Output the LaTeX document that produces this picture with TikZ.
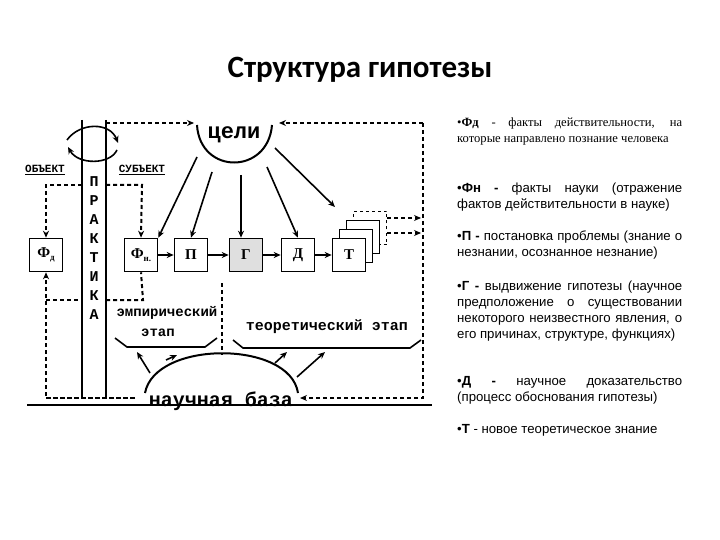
\documentclass[tikz,border=0pt]{standalone}
\usepackage{fontspec}
\setmainfont{Liberation Serif}
\newfontfamily\sansf{Liberation Sans}
\newfontfamily\titlef{Carlito}
\newfontfamily\monof{Liberation Mono}
\usetikzlibrary{arrows.meta}
\begin{document}
\begin{tikzpicture}[x=1pt,y=-1pt,
  bx/.style={draw,line width=1.6pt,minimum size=33pt,inner sep=0pt,font=\bfseries\fontsize{15}{15}\selectfont},
  dl/.style={line width=2pt,dash pattern=on 4pt off 3pt},
  ar/.style={-{Stealth[length=7pt,width=6pt]}},
  thk/.style={line width=1.6pt},
  mono/.style={inner sep=0pt,font=\monof\bfseries\fontsize{14}{14}\selectfont},
  para/.style={anchor=north west,text width=225pt,align=justify,inner sep=0pt,font=\sansf\fontsize{13.2}{16}\selectfont}]
\useasboundingbox[fill=white] (0,0) rectangle (720,540);
\node[font=\titlef\bfseries\fontsize{31}{31}\selectfont] (title) at (360,70) {Структура гипотезы};
% frame lines
\draw[thk] (27,405) -- (432,405);
\draw[line width=2pt] (82,120) -- (82,398);
\draw[line width=2pt] (106,120) -- (106,398);
\foreach \l [count=\i] in {П,Р,А,К,Т,И,К,А}
  \node[inner sep=0pt,font=\monof\bfseries\fontsize{15}{15}\selectfont] (p\i) at (94,163+\i*19) {\l};
\node[inner sep=0pt,font=\monof\bfseries\fontsize{11}{11}\selectfont] (obj) at (45,170) {\underline{ОБЪЕКТ}};
\node[inner sep=0pt,font=\monof\bfseries\fontsize{11}{11}\selectfont] (subj) at (142,170) {\underline{СУБЪЕКТ}};
% circular arrows
\draw[thk,ar] (67,140) .. controls (80,122) and (110,122) .. (118,143);
\draw[thk,ar] (117,150) .. controls (110,165) and (78,165) .. (68,147);
% celi
\draw[line width=2pt] (197,125) .. controls (200,175) and (268,175) .. (272,125);
\node[inner sep=0pt,font=\monof\bfseries\fontsize{22}{22}\selectfont] (celi) at (234,135) {цели};
% boxes
\node[bx] (fd) at (46,255) {Ф\raisebox{-3pt}{\fontsize{9}{9}\selectfont д}};
\node[bx] (fn) at (141,255) {Ф\raisebox{-3pt}{\fontsize{9}{9}\selectfont н.}};
\node[bx] (pp) at (191,255) {П};
\node[bx,fill=gray!25] (gg) at (246,255) {Г};
\node[bx] (dd) at (298,255) {Д};
\node[bx,dashed] (t3) at (370,228) {};
\node[bx,fill=white] (t2) at (363,237) {};
\node[bx,fill=white] (t1) at (356,246) {};
\node[bx,fill=white] (tt) at (349,255) {Т};
\draw[thk,ar] (fn) -- (pp);
\draw[thk,ar] (pp) -- (gg);
\draw[thk,ar] (gg) -- (dd);
\draw[thk,ar] (dd) -- (tt);
\coordinate (o1) at (421,218); \coordinate (o2) at (421,233);
\draw[dl,ar] (t3.east |- o1) -- (o1);
\draw[dl,ar] (t3.east |- o2) -- (o2);
% arrows from celi
\draw[thk,ar] (197,157) -- (fn.north east);
\draw[thk,ar] (212,172) -- (pp.north);
\draw[thk,ar] (241,175) -- ([xshift=-5pt]gg.north);
\draw[thk,ar] (267,167) -- (dd.north);
\draw[thk,ar] (275,148) -- (335,207);
% dashed lines
\coordinate (c1) at (106,123); \coordinate (c2) at (194,123);
\draw[dl,ar] (c1) -- (c2);
\coordinate (r1) at (423,123); \coordinate (r2) at (423,398); \coordinate (r3) at (300,398);
\draw[dl,ar] (r1) -- (279,123);
\draw[dl,ar] (r1) -- (r2) -- (r3);
\draw[dl,ar] (82,185) -- (46,185) -- (fd.north);
\draw[dl,ar] (106,185) -- (142,185) -- (fn.north);
\coordinate (b1) at (46,398); \coordinate (b2) at (135,398);
\draw[dl,ar] (b2) -| (46,300) -- (fd.south);
\draw[dl] (b1) -- (b2);
\draw[dl] (46,300) -- (82,300);
\draw[dl] (106,300) -- (143,300) -- (fn.south);
\draw[dl] (222,283) -- (222,355);
% stage labels
\node[mono] (emp) at (167,313) {эмпирический};
\node[mono] (etap) at (158,333) {этап};
\node[mono,font=\monof\bfseries\fontsize{15}{15}\selectfont] (teor) at (327,327) {теоретический этап};
\draw[thk] (115,338) -- (127,347) -- (205,347) -- (217,338);
\draw[thk] (233,340) -- (243,348) -- (410,348) -- (421,340);
% base
\draw[line width=2pt] (145,393) .. controls (155,340) and (290,340) .. (298,393);
\node[inner sep=0pt,font=\monof\bfseries\fontsize{20}{20}\selectfont] (base) at (221,401) {научная база};
\draw[thk,ar] (150,373) -- (137,352);
\draw[thk,ar] (166,360) -- (177,355);
\draw[thk,ar] (275,363) -- (287,352);
\draw[thk,ar] (297,377) -- (325,352);
% text
\node[para,font=\rmfamily\fontsize{12.6}{16}\selectfont] (t1p) at (457,118) {\textbullet\textbf{Фд} - факты действительности, на которые направлено познание человека};
\node[para] (t2p) at (457,183) {\textbullet\textbf{Фн -} факты науки (отражение фактов действительности в науке)};
\node[para] (t3p) at (457,231) {\textbullet\textbf{П -} постановка проблемы (знание о незнании, осознанное незнание)};
\node[para] (t4p) at (457,281) {\textbullet\textbf{Г -} выдвижение гипотезы (научное предположение о существовании некоторого неизвестного явления, о его причинах, структуре, функциях)};
\node[para] (t5p) at (457,376) {\textbullet\textbf{Д -} научное доказательство (процесс обоснования гипотезы)};
\node[para] (t6p) at (457,424) {\textbullet\textbf{Т} - новое теоретическое знание};
\end{tikzpicture}
\end{document}
